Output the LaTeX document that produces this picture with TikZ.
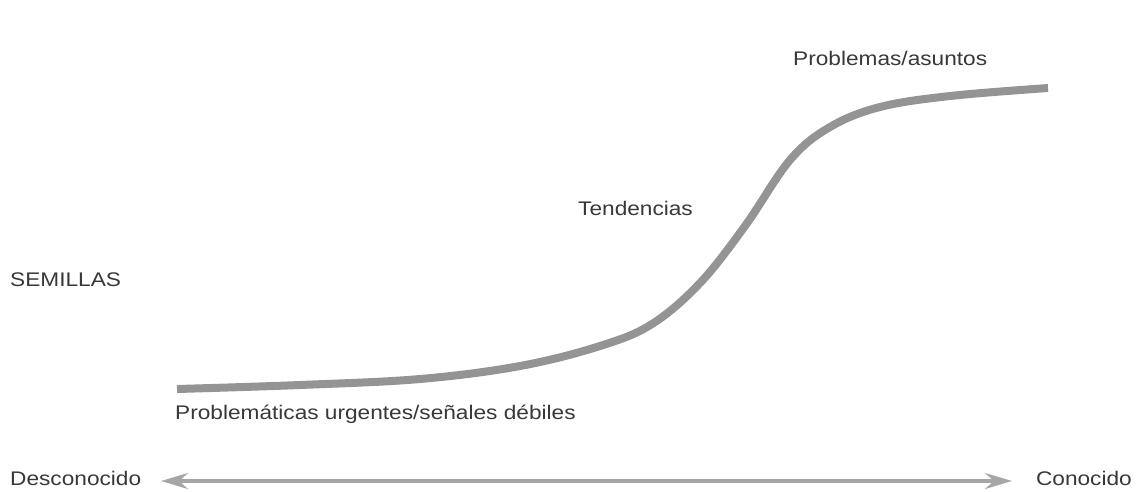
\documentclass[tikz,border=0pt]{standalone}
\usepackage{fontspec}
\setmainfont[FakeStretch=1.15]{Liberation Sans}
\usetikzlibrary{arrows.meta}
\begin{document}
\begin{tikzpicture}[x=1pt,y=-1pt,
  lbl/.style={font=\fontsize{19.7}{23}\selectfont, text=black!78, inner sep=0pt},
  curve/.style={line width=8pt, draw=black!42},
  axis/.style={line width=3.3pt, draw=black!35, {Stealth[length=27pt,width=16pt,inset=9pt]}-{Stealth[length=27pt,width=16pt,inset=9pt]}}]
\useasboundingbox (0,0) rectangle (1145,491);
\node[lbl, anchor=west] (prob) at (793,58) {Problemas/asuntos};
\node[lbl, anchor=west] (tend) at (578,208) {Tendencias};
\node[lbl, anchor=west] (sem) at (10,280) {SEMILLAS};
\node[lbl, anchor=west] (urg) at (175,414) {Problemáticas urgentes/señales débiles};
\node[lbl, anchor=west] (desc) at (10,478) {Desconocido};
\node[lbl, anchor=east] (con) at (1132,478) {Conocido};
\coordinate (a1) at (161,481);
\coordinate (a2) at (1012,481);
\draw[axis] (a1) -- (a2);
\draw[curve] plot[smooth, tension=0.6] coordinates {(177,389) (300,385) (420,379) (520,366) (600,346) (652,324) (700,283) (745,226) (790,160) (830,127) (880,107) (950,96) (1048,88)};
\end{tikzpicture}
\end{document}
